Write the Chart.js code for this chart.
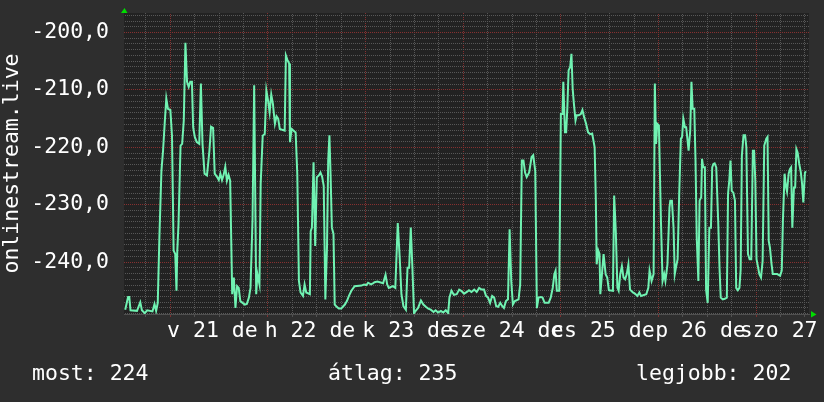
<!DOCTYPE html>
<html>
<head>
<meta charset="utf-8">
<script src="https://cdn.jsdelivr.net/npm/chart.js@4"></script>
<style>
html, body { margin: 0; padding: 0; background: #2e2e2e; }
canvas { display: block; }
</style>
</head>
<body>
<canvas id="graph" width="824" height="402"></canvas>
<script>
// time of each sample, in hours from the left edge of the graph
const hours = [
  0.3, 1.0, 1.3, 1.6, 3.2, 4.0, 4.4, 5.1, 5.7, 7.0, 7.5, 7.9, 8.3, 8.7, 9.2, 9.6, 10.0, 10.4, 10.8, 11.4,
  11.8, 12.2, 12.6, 12.9, 13.1, 13.4, 13.9, 14.3, 14.7, 15.1, 15.5, 15.9, 16.3, 16.7, 17.0, 17.4, 17.9, 18.5, 18.9, 19.3,
  19.8, 20.4, 21.0, 21.4, 21.9, 22.3, 22.9, 23.3, 23.7, 24.1, 24.5, 24.9, 25.3, 25.7, 26.1, 26.6, 27.0, 27.4, 27.8, 28.2,
  28.6, 29.7, 30.2, 30.7, 31.1, 31.6, 32.0, 32.5, 32.8, 33.3, 33.6, 34.1, 34.6, 35.0, 35.4, 35.8, 36.2, 36.6, 37.1, 37.5,
  37.9, 38.3, 39.5, 39.8, 40.2, 40.6, 40.8, 41.2, 42.2, 42.6, 43.0, 43.4, 44.0, 44.4, 44.8, 45.7, 45.9, 46.2, 46.6, 47.0,
  47.4, 47.9, 48.3, 48.7, 49.1, 49.5, 49.9, 50.2, 50.5, 50.8, 51.1, 51.5, 51.8, 52.3, 52.8, 53.4, 54.3, 54.8, 55.3, 55.9,
  56.7, 58.4, 59.0, 59.6, 60.0, 60.7, 61.2, 61.6, 62.3, 63.7, 64.3, 64.7, 65.1, 66.1, 66.7, 67.3, 67.8, 68.2, 68.7, 69.3,
  69.7, 70.1, 70.5, 70.9, 71.3, 71.7, 72.3, 73.0, 73.6, 74.2, 74.8, 75.4, 76.1, 76.6, 77.2, 77.9, 78.5, 79.1, 79.7, 80.0,
  80.5, 81.1, 81.8, 82.4, 82.9, 83.6, 84.3, 84.8, 85.4, 86.1, 86.7, 87.3, 87.9, 88.5, 89.0, 89.5, 90.0, 90.5, 91.0, 91.5,
  92.0, 92.5, 93.0, 93.4, 93.9, 94.4, 94.8, 95.2, 95.6, 96.1, 97.0, 97.4, 97.8, 98.2, 98.6, 99.0, 99.6, 100.2, 100.6, 101.1,
  101.5, 101.9, 102.5, 102.9, 103.4, 104.4, 104.9, 105.4, 105.8, 106.1, 106.4, 107.0, 107.4, 107.8, 108.0, 108.4, 108.7, 109.0, 109.3, 109.7,
  110.0, 110.3, 110.6, 111.0, 111.3, 111.8, 112.3, 112.7, 113.1, 113.6, 114.1, 114.6, 115.1, 115.4, 115.7, 116.0, 116.2, 116.6, 116.9, 117.1,
  117.5, 117.9, 118.4, 118.8, 119.2, 120.2, 120.5, 120.9, 121.3, 121.6, 122.0, 122.4, 122.8, 123.2, 123.6, 124.0, 124.4, 125.1, 125.6, 126.2,
  126.7, 127.1, 128.4, 128.9, 129.2, 129.7, 130.2, 130.5, 130.8, 131.1, 131.5, 132.0, 132.4, 132.8, 133.1, 133.6, 134.1, 134.3, 134.7, 135.1,
  135.4, 135.7, 136.1, 136.5, 136.9, 137.2, 137.5, 137.9, 138.2, 138.5, 138.8, 139.2, 139.5, 139.8, 140.2, 140.5, 140.8, 141.2, 141.5, 141.9,
  142.1, 142.4, 142.8, 143.1, 143.5, 143.9, 144.3, 144.6, 144.9, 145.2, 145.6, 146.1, 146.4, 146.7, 147.2, 147.7, 148.2, 148.5, 148.8, 149.1,
  149.4, 149.8, 150.2, 150.5, 150.9, 151.3, 151.6, 151.9, 152.3, 152.7, 153.0, 153.4, 153.8, 154.2, 154.6, 154.9, 155.2, 155.5, 155.9, 156.2,
  156.6, 157.0, 157.4, 157.9, 158.2, 158.5, 158.8, 159.2, 159.5, 160.6, 161.3, 161.7, 162.0, 162.4, 162.7, 163.0, 163.4, 163.7, 164.0, 164.3,
  164.7, 165.0, 165.3, 165.6, 166.0, 166.4, 166.7, 167.0, 167.4, 167.7
];
const values = [
  -248.3, -246.1, -246.1, -248.4, -248.5, -247.0, -248.4, -248.9, -248.4, -248.6, -247.3, -248.5, -247.1, -235.7, -224.1, -220.6, -215.9, -211.5, -213.3, -213.5,
  -218.0, -238.0, -238.6, -245.0, -238.0, -233.4, -219.7, -219.4, -215.3, -201.8, -208.6, -209.5, -208.6, -208.6, -216.5, -218.2, -219.1, -219.4, -208.9, -219.4,
  -224.6, -224.9, -220.6, -216.4, -216.6, -224.6, -225.2, -225.7, -224.6, -225.7, -224.8, -223.4, -225.8, -224.8, -225.8, -245.6, -242.7, -248.0, -244.2, -244.5,
  -246.8, -247.4, -247.3, -246.2, -244.5, -232.5, -209.2, -245.6, -242.1, -243.9, -226.4, -218.0, -217.7, -210.1, -211.8, -213.9, -210.8, -212.4, -215.9, -214.6,
  -215.0, -216.8, -217.1, -204.0, -204.8, -205.4, -219.1, -216.8, -217.4, -224.7, -243.3, -245.3, -245.9, -243.9, -245.3, -245.6, -234.6, -234.0, -222.6, -237.2,
  -225.2, -224.9, -224.4, -225.1, -226.7, -246.5, -237.5, -222.3, -217.9, -225.2, -234.0, -235.1, -247.4, -247.8, -248.1, -248.1, -247.4, -246.8, -245.9, -245.0,
  -244.2, -244.1, -243.9, -244.0, -243.6, -243.9, -243.7, -243.5, -243.4, -243.7, -242.2, -243.9, -244.5, -244.2, -244.5, -233.2, -239.5, -245.6, -247.7, -248.3,
  -241.0, -241.0, -234.0, -241.0, -248.9, -248.5, -248.0, -246.7, -247.4, -247.8, -248.1, -248.3, -248.7, -248.4, -248.8, -248.5, -248.8, -248.4, -248.9, -246.2,
  -245.0, -245.7, -245.6, -244.8, -245.0, -245.5, -245.2, -244.9, -245.2, -244.8, -245.2, -244.5, -244.8, -244.8, -245.9, -246.2, -247.1, -245.9, -246.2, -247.7,
  -247.8, -247.1, -247.7, -248.0, -246.8, -246.5, -234.3, -243.3, -247.4, -246.8, -246.5, -243.9, -222.3, -222.3, -224.4, -225.2, -224.4, -221.7, -221.4, -224.1,
  -248.0, -246.2, -246.1, -246.2, -247.1, -247.1, -246.2, -244.5, -242.1, -241.5, -245.0, -245.0, -214.2, -214.2, -208.6, -217.4, -217.4, -213.0, -206.6, -206.0,
  -203.7, -209.8, -212.4, -215.3, -214.4, -214.4, -214.2, -213.5, -214.7, -215.9, -217.4, -217.7, -217.6, -218.8, -220.0, -229.3, -240.4, -238.0, -238.6, -245.6,
  -242.1, -238.6, -242.1, -242.7, -244.9, -245.0, -228.4, -234.6, -244.5, -245.0, -242.1, -240.7, -242.7, -243.0, -242.1, -240.4, -244.8, -245.3, -245.5, -245.9,
  -245.3, -245.9, -245.6, -244.5, -241.5, -243.3, -242.1, -208.9, -219.4, -215.9, -216.2, -232.8, -243.3, -242.1, -243.3, -240.4, -230.5, -229.3, -229.3, -234.0,
  -242.1, -240.9, -239.5, -227.9, -218.5, -218.2, -215.0, -216.5, -216.5, -218.5, -220.6, -217.1, -208.6, -213.3, -213.3, -222.3, -235.7, -243.3, -229.3, -228.7,
  -222.0, -223.5, -223.5, -244.8, -247.1, -234.0, -234.0, -223.5, -222.9, -222.8, -223.5, -233.4, -241.0, -246.2, -246.5, -246.4, -246.2, -228.1, -225.8, -222.3,
  -227.6, -227.9, -229.3, -244.5, -244.9, -244.5, -241.3, -221.4, -217.9, -217.9, -220.0, -238.6, -239.5, -239.5, -220.6, -220.6, -225.8, -239.5, -241.0, -242.1,
  -242.7, -239.8, -219.7, -218.5, -218.2, -236.3, -237.5, -240.4, -242.1, -242.1, -242.4, -241.5, -232.5, -224.6, -226.7, -227.7, -224.6, -223.8, -223.5, -234.0,
  -227.0, -227.0, -220.3, -220.9, -222.9, -224.4, -226.4, -229.6, -224.4, -224.2
];

const yTitle = 'onlinestream.live';
// midnight of each day, in hours from the left edge, with its label
const dayHours = [11.4, 35.4, 59.4, 83.4, 107.4, 131.4, 155.4];
const dayLabels = ['v 21 de', 'h 22 de', 'k 23 de', 'sze 24 de', 'cs 25 de', 'p 26 de', 'szo 27 de'];
const xMin = 0, xMax = 168.4;
const yMin = -249.05, yMax = -196.6;
const legendTexts = ['most: 224', 'átlag: 235', 'legjobb: 202'];

const MONO = { family: 'DejaVu Sans Mono', size: 21.5 };

// dotted strokes, like the rrd grid: a 2x2 checker pattern
function dots(color) {
  const c = document.createElement('canvas');
  c.width = 2; c.height = 2;
  const g = c.getContext('2d');
  g.fillStyle = color;
  g.fillRect(0, 0, 1, 1);
  g.fillRect(1, 1, 1, 1);
  return g.createPattern(c, 'repeat');
}
const GRID_GRAY = dots('#575757');
const GRID_RED = dots('#863030');

// minor grid every 6 hours, major at midnight
const xTicks = [];
for (let h = 5.4; h < xMax; h += 6) xTicks.push(Math.round(h * 10) / 10);
const yTicks = [];
for (let v = -249; v <= -197; v++) yTicks.push(v);

function dayIndex(v) {
  return dayHours.findIndex(d => Math.abs(d - v) < 0.01);
}

const rrdLook = {
  id: 'rrdLook',
  beforeDraw(chart) {
    const ctx = chart.ctx, a = chart.chartArea;
    ctx.save();
    ctx.fillStyle = '#2e2e2e';
    ctx.fillRect(0, 0, chart.width, chart.height);
    ctx.fillStyle = '#222222';
    ctx.fillRect(a.left, a.top, a.right - a.left, a.bottom - a.top);
    ctx.restore();
  },
  afterDraw(chart) {
    const ctx = chart.ctx, a = chart.chartArea;
    ctx.save();
    // little green arrows at the axis ends
    ctx.fillStyle = '#00dd00';
    ctx.beginPath();
    ctx.moveTo(a.left - 3, a.top);
    ctx.lineTo(a.left + 3.5, a.top);
    ctx.lineTo(a.left + 0.5, a.top - 5);
    ctx.closePath();
    ctx.fill();
    ctx.beginPath();
    ctx.moveTo(a.right + 2, a.bottom - 3);
    ctx.lineTo(a.right + 2, a.bottom + 3.5);
    ctx.lineTo(a.right + 7.5, a.bottom + 0.5);
    ctx.closePath();
    ctx.fill();
    // legend line under the graph
    ctx.fillStyle = '#ffffff';
    ctx.font = MONO.size + 'px "' + MONO.family + '"';
    ctx.textBaseline = 'alphabetic';
    const xs = [32, 328, 636];
    legendTexts.forEach((t, i) => ctx.fillText(t, xs[i], 380));
    ctx.restore();
  }
};

new Chart(document.getElementById('graph'), {
  type: 'line',
  data: {
    datasets: [{
      data: hours.map((h, i) => ({ x: h, y: values[i] })),
      borderColor: '#70f2b2',
      borderWidth: 2,
      pointRadius: 0,
      fill: false,
      tension: 0
    }]
  },
  options: {
    responsive: false,
    animation: false,
    layout: { padding: { top: 13, right: 15, left: 0, bottom: 0 } },
    plugins: { legend: { display: false }, tooltip: { enabled: false } },
    scales: {
      x: {
        type: 'linear',
        min: xMin,
        max: xMax,
        afterBuildTicks: s => { s.ticks = xTicks.map(v => ({ value: v })); },
        afterFit: s => { s.height = 88; s.paddingLeft = 0; s.paddingRight = 0; },
        grid: {
          color: c => (c.tick && dayIndex(c.tick.value) >= 0) ? GRID_RED : GRID_GRAY,
          tickColor: c => (c.tick && dayIndex(c.tick.value) >= 0) ? '#7a3030' : '#505050',
          lineWidth: 1,
          drawTicks: true,
          tickLength: 3
        },
        border: { display: true, color: '#505050', width: 1 },
        ticks: {
          autoSkip: false,
          maxRotation: 0,
          minRotation: 0,
          labelOffset: 42,
          padding: 2,
          color: '#ffffff',
          font: MONO,
          callback: v => { const i = dayIndex(v); return i >= 0 ? dayLabels[i] : ''; }
        }
      },
      y: {
        min: yMin,
        max: yMax,
        afterBuildTicks: s => { s.ticks = yTicks.map(v => ({ value: v })); },
        afterFit: s => { s.width = 124; s.paddingTop = 0; s.paddingBottom = 0; },
        grid: {
          color: c => (c.tick && c.tick.value % 10 === 0) ? GRID_RED : GRID_GRAY,
          lineWidth: 1,
          drawTicks: false
        },
        border: { display: false },
        ticks: {
          autoSkip: false,
          padding: 15,
          color: '#ffffff',
          font: MONO,
          callback: v => v % 10 === 0 ? v.toFixed(1).replace('.', ',') : ''
        },
        title: { display: true, text: yTitle, color: '#ffffff', font: MONO, padding: { top: 0, bottom: 0 } }
      }
    }
  },
  plugins: [rrdLook]
});
</script>
</body>
</html>
